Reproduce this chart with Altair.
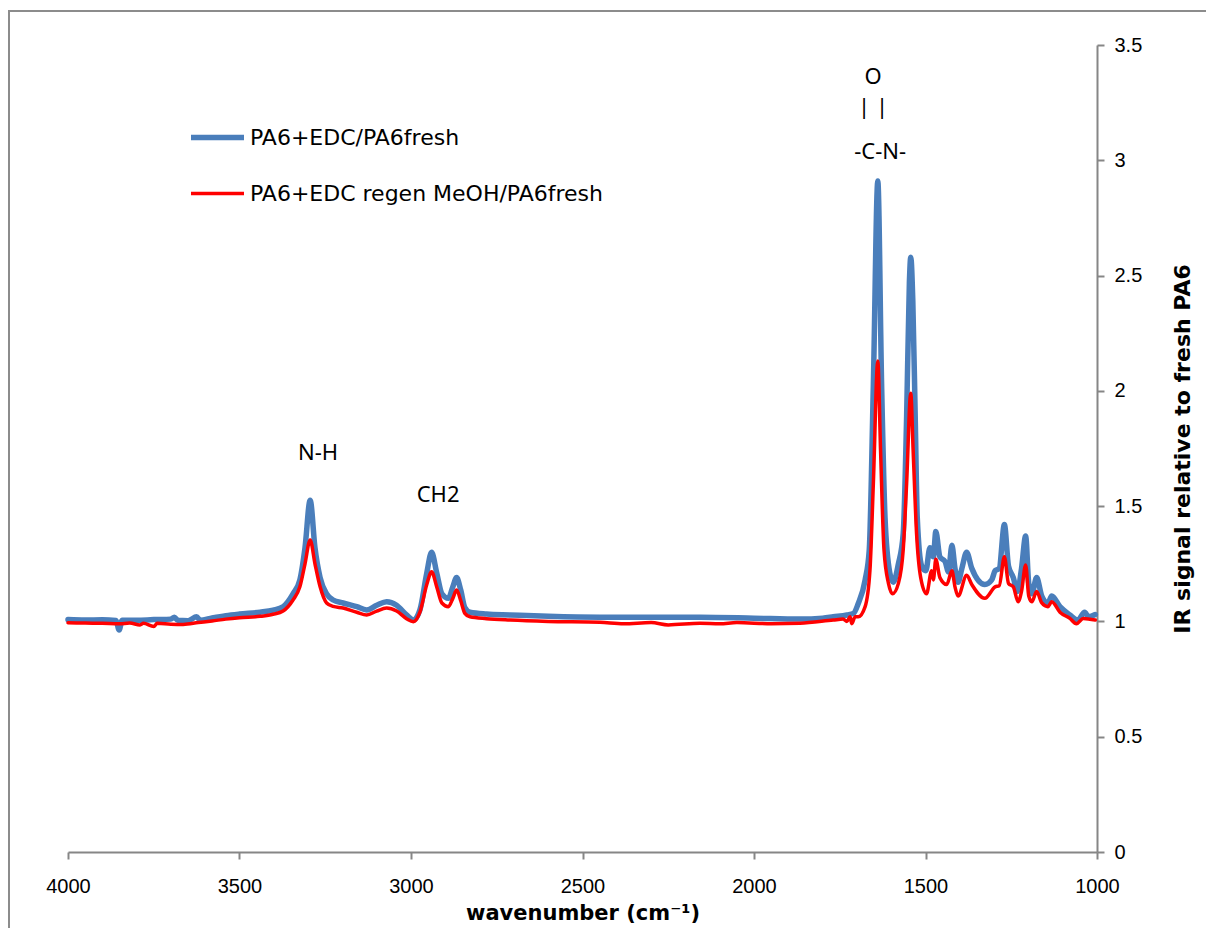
import altair as alt
import pandas as pd

# ---- data ----
blue_wn = [4000, 3950, 3900, 3860, 3851, 3842, 3800, 3750, 3700, 3690, 3680, 3650, 3625, 3615, 3580, 3540,
           3500, 3440, 3402, 3373, 3344, 3324, 3309, 3294, 3280, 3265, 3246, 3227, 3198, 3158, 3129, 3100,
           3071, 3042, 3013, 2993, 2974, 2954, 2940, 2925, 2910, 2891, 2878, 2867, 2855, 2843, 2828, 2780,
           2711, 2600, 2449, 2300, 2157, 2000, 1866, 1800, 1769, 1729, 1710, 1696, 1676, 1664, 1652, 1639,
           1628, 1618, 1604, 1594, 1579, 1565, 1555, 1547, 1543, 1537, 1530, 1524, 1511, 1499, 1487, 1477,
           1470, 1458, 1443, 1433, 1423, 1414, 1405, 1394, 1380, 1365, 1327, 1307, 1297, 1285, 1270, 1258,
           1244, 1232, 1220, 1208, 1199, 1190, 1176, 1161, 1143, 1132, 1108, 1079, 1056, 1036, 1025, 1005]
blue_val = [1.008, 1.006, 1.007, 1.004, 0.963, 1.005, 1.005, 1.008, 1.010, 1.018, 1.005, 1.003, 1.020, 1.005, 1.015, 1.025,
            1.032, 1.040, 1.049, 1.064, 1.120, 1.180, 1.320, 1.526, 1.320, 1.190, 1.120, 1.093, 1.080, 1.064, 1.050, 1.070,
            1.085, 1.070, 1.028, 1.006, 1.050, 1.210, 1.300, 1.210, 1.120, 1.100, 1.150, 1.190, 1.136, 1.060, 1.040, 1.032,
            1.028, 1.022, 1.018, 1.018, 1.018, 1.014, 1.010, 1.014, 1.020, 1.028, 1.035, 1.078, 1.180, 1.310, 2.030, 2.910,
            2.030, 1.450, 1.210, 1.170, 1.250, 1.380, 1.890, 2.470, 2.580, 2.390, 1.890, 1.450, 1.240, 1.220, 1.320, 1.280,
            1.390, 1.280, 1.260, 1.215, 1.330, 1.230, 1.170, 1.230, 1.300, 1.230, 1.160, 1.180, 1.220, 1.230, 1.420, 1.240,
            1.190, 1.130, 1.230, 1.370, 1.165, 1.120, 1.190, 1.110, 1.080, 1.110, 1.064, 1.028, 1.006, 1.040, 1.020, 1.030]

red_wn = [4000, 3950, 3900, 3850, 3820, 3790, 3780, 3750, 3740, 3700, 3664, 3620, 3580, 3540,
          3500, 3440, 3402, 3373, 3344, 3324, 3309, 3294, 3280, 3265, 3246, 3227, 3198, 3158, 3129, 3100,
          3071, 3042, 3013, 2993, 2974, 2954, 2940, 2925, 2910, 2891, 2878, 2867, 2855, 2843, 2828, 2780,
          2711, 2600, 2449, 2380, 2300, 2250, 2157, 2100, 2050, 1950, 1866, 1769, 1740, 1729, 1720, 1715,
          1705, 1696, 1676, 1662, 1652, 1639, 1631, 1621, 1608, 1596, 1579, 1565, 1555, 1543, 1536, 1526,
          1514, 1497, 1482, 1477, 1470, 1458, 1438, 1423, 1414, 1405, 1380, 1365, 1327, 1297, 1285, 1270,
          1258, 1244, 1230, 1220, 1208, 1199, 1190, 1176, 1161, 1143, 1132, 1108, 1079, 1060, 1040, 1005]
red_val = [0.994, 0.993, 0.992, 0.990, 0.993, 0.985, 0.992, 0.978, 0.992, 0.988, 0.987, 0.995, 1.002, 1.010,
           1.016, 1.022, 1.031, 1.045, 1.093, 1.150, 1.250, 1.353, 1.250, 1.150, 1.080, 1.065, 1.058, 1.040, 1.028, 1.045,
           1.058, 1.045, 1.012, 0.999, 1.040, 1.160, 1.215, 1.150, 1.080, 1.064, 1.100, 1.136, 1.090, 1.035, 1.020, 1.012,
           1.006, 1.000, 0.996, 0.990, 0.995, 0.985, 0.992, 0.990, 0.995, 0.990, 0.992, 1.006, 1.010, 1.000, 1.020, 0.990,
           1.020, 1.020, 1.064, 1.220, 1.600, 2.130, 1.740, 1.310, 1.165, 1.120, 1.165, 1.310, 1.600, 1.990, 1.740, 1.380,
           1.190, 1.120, 1.220, 1.180, 1.270, 1.190, 1.160, 1.220, 1.150, 1.110, 1.200, 1.160, 1.100, 1.150, 1.155, 1.280,
           1.165, 1.150, 1.085, 1.130, 1.245, 1.110, 1.085, 1.130, 1.080, 1.064, 1.085, 1.040, 1.013, 0.990, 1.013, 1.006]

series_names = ["PA6+EDC/PA6fresh", "PA6+EDC regen MeOH/PA6fresh"]
series_colors = ["#4A7EBB", "#FF0000"]
series_widths = [5.5, 3.5]

x_ticks = [4000, 3500, 3000, 2500, 2000, 1500, 1000]
y_ticks = [0, 0.5, 1, 1.5, 2, 2.5, 3, 3.5]

ann_text = ["N-H", "CH2", "O", "| |", "-C-N-"]
ann_wn = [3271, 2921, 1653, 1653, 1632]
ann_val = [1.73, 1.55, 3.36, 3.23, 3.035]

# ---- tables ----
df = pd.concat([
    pd.DataFrame({"wn": blue_wn, "val": blue_val, "series": series_names[0]}),
    pd.DataFrame({"wn": red_wn, "val": red_val, "series": series_names[1]}),
], ignore_index=True)
ann = pd.DataFrame({"wn": ann_wn, "val": ann_val, "text": ann_text})

FONT = "Liberation Sans"
WIDE = "DejaVu Sans"

x_enc = alt.X("wn:Q",
              scale=alt.Scale(domain=[1000, 4000], reverse=True, nice=False, zero=False),
              axis=alt.Axis(values=x_ticks, format="d", title="wavenumber (cm⁻¹)",
                            orient="bottom", grid=False, labelFontSize=20, titleFontSize=21,
                            titleFont=WIDE, titleFontWeight="bold", labelPadding=17,
                            titlePadding=6, labelFlush=False))
y_enc = alt.Y("val:Q",
              scale=alt.Scale(domain=[0, 3.5], nice=False, zero=True),
              axis=alt.Axis(values=y_ticks, format="~g", title="IR signal relative to fresh PA6",
                            orient="right", grid=False, labelFontSize=20, titleFontSize=22,
                            titleFont=WIDE, titleFontWeight="bold", titleAngle=270,
                            labelPadding=10, titlePadding=53, labelFlush=False))

legend = alt.Legend(orient="none", legendX=120, legendY=63, title=None,
                    symbolType="stroke", symbolSize=2809, labelFontSize=22,
                    labelFont=WIDE, labelLimit=0, rowPadding=16, labelOffset=3, padding=0)

color = alt.Color("series:N", scale=alt.Scale(domain=series_names, range=series_colors),
                  legend=legend, sort=series_names)
width = alt.StrokeWidth("series:N", scale=alt.Scale(domain=series_names, range=series_widths),
                        legend=legend, sort=series_names)

base = alt.Chart(df).mark_line(strokeJoin="round", strokeCap="round",
                               interpolate="monotone").encode(
    x=x_enc, y=y_enc, color=color, strokeWidth=width)

blue = base.transform_filter(alt.datum.series == series_names[0])
red = base.transform_filter(alt.datum.series == series_names[1])

labels = alt.Chart(ann).mark_text(fontSize=22, font="Noto Sans", color="black").encode(
    x="wn:Q", y="val:Q", text="text:N")

frame_df = pd.DataFrame({"a": [0]})
border_left = alt.Chart(frame_df).mark_rule(stroke="#8c8c8c", strokeWidth=2).encode(
    x=alt.value(-59), y=alt.value(-35), y2=alt.value(950))
border_top = alt.Chart(frame_df).mark_rule(stroke="#8c8c8c", strokeWidth=2).encode(
    x=alt.value(-60), x2=alt.value(1250), y=alt.value(-34))

chart = alt.layer(border_left, border_top, blue, red, labels).properties(
    width=1029, height=807,
    autosize=alt.AutoSizeParams(type="none"),
    padding={"left": 68, "top": 45, "right": 109, "bottom": 76},
).configure(background="white").configure_view(stroke=None).configure_axis(
    grid=False, domainColor="#868686", tickColor="#868686", domainWidth=2, tickWidth=2,
    tickSize=7, labelColor="black", titleColor="black", labelFont=FONT,
)

chart.save("out.html", embed_options={"renderer": "svg", "actions": False})
